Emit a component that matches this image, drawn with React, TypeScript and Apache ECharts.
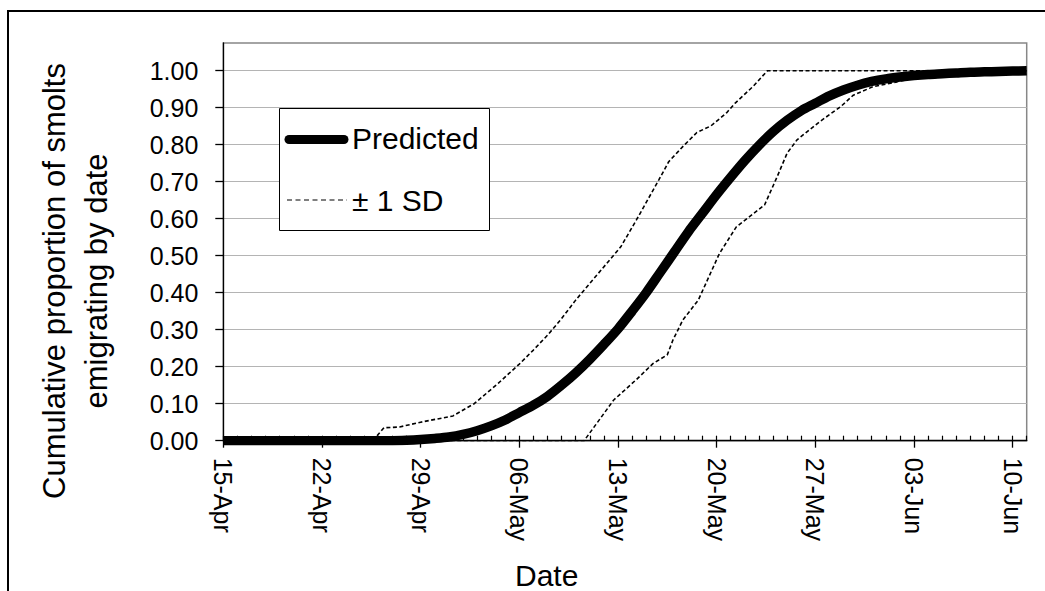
import React, { useEffect, useRef } from "react";
import * as echarts from "echarts";

// X axis: days since 15-Apr
const xTickDays = [0, 7, 14, 21, 28, 35, 42, 49, 56];
const xTickLabels = ["15-Apr", "22-Apr", "29-Apr", "06-May", "13-May", "20-May", "27-May", "03-Jun", "10-Jun"];
const yTickValues = [0, 0.1, 0.2, 0.3, 0.4, 0.5, 0.6, 0.7, 0.8, 0.9, 1.0];

const predictedDays = [0, 12, 13, 14, 15, 16, 17, 18, 19, 20, 21, 22, 23, 24, 25, 26, 27, 28, 29, 30, 31, 32, 33, 34, 35, 36, 37, 38, 39, 40, 41, 42, 43, 44, 45, 46, 47, 48, 49, 50, 51, 52, 53, 54, 55, 56, 57];
const predictedValues = [0, 0, 0.001, 0.003, 0.006, 0.01, 0.017, 0.027, 0.04, 0.056, 0.076, 0.096, 0.12, 0.15, 0.183, 0.22, 0.26, 0.302, 0.35, 0.4, 0.455, 0.51, 0.565, 0.615, 0.665, 0.712, 0.757, 0.798, 0.835, 0.866, 0.892, 0.912, 0.932, 0.948, 0.961, 0.971, 0.978, 0.983, 0.987, 0.99, 0.992, 0.994, 0.996, 0.997, 0.998, 0.999, 1.0];

const upperSdDays = [0, 10.6, 11.4, 12.5, 14, 16.3, 17.8, 19.5, 21, 22, 23, 24, 25, 26, 27.4, 28.2, 29.3, 30.9, 31.6, 32.6, 33.6, 34.6, 35.7, 36.3, 37.6, 38.6, 57];
const upperSdValues = [0, 0, 0.035, 0.037, 0.05, 0.067, 0.1, 0.155, 0.207, 0.245, 0.285, 0.33, 0.38, 0.425, 0.488, 0.524, 0.596, 0.705, 0.754, 0.795, 0.833, 0.851, 0.886, 0.912, 0.958, 1.0, 1.0];

const lowerSdDays = [0, 25.6, 27.7, 29.3, 30.5, 31.5, 31.9, 32.6, 33.7, 35.2, 36.4, 38.4, 39.3, 40, 40.7, 42.3, 43.8, 44.7, 46.1, 47.8, 49.5, 52, 57];
const lowerSdValues = [0, 0, 0.11, 0.165, 0.209, 0.232, 0.272, 0.326, 0.38, 0.506, 0.578, 0.637, 0.714, 0.777, 0.813, 0.862, 0.903, 0.934, 0.957, 0.97, 0.985, 0.995, 1.0];

const FONT = "'Liberation Sans', Arial, sans-serif";

export default function App() {
  const ref = useRef<HTMLDivElement>(null);
  useEffect(() => {
    document.body.style.margin = "0";
    const chart = echarts.init(ref.current!, null, { renderer: "svg" });
    const pair = (d: number[], v: number[]) => d.map((x, i) => [x, v[i]]);
    const gTop = 43;
    const gBottom = 150.3;
    const plotH = 591 - gTop - gBottom;
    chart.setOption({
      animation: false,
      grid: {
        left: 223.3,
        right: 18.3,
        top: gTop,
        bottom: gBottom,
        show: true,
        borderColor: "#878787",
        borderWidth: 1.5,
      },
      xAxis: [
        {
          type: "value",
          min: 0,
          max: 57,
          interval: 7,
          position: "bottom",
          axisLine: { show: true, onZero: false, lineStyle: { color: "#000", width: 1.3 } },
          axisTick: { show: true, length: 7, customValues: xTickDays, lineStyle: { color: "#000", width: 1.3 } },
          axisLabel: {
            show: true,
            customValues: xTickDays,
            rotate: -90,
            margin: 17,
            fontSize: 25,
            fontFamily: FONT,
            color: "#000",
            padding: [0, 0, 6, 0],
            formatter: (v: number) => {
              const i = xTickDays.indexOf(Math.round(v));
              return i >= 0 ? xTickLabels[i] : "";
            },
          },
          splitLine: { show: false },
        },
        {
          type: "value",
          min: 0,
          max: 57,
          interval: 1,
          position: "top",
          offset: -plotH,
          axisLine: { show: false, onZero: false },
          axisTick: { show: true, length: 5, lineStyle: { color: "#000", width: 1.2 } },
          axisLabel: { show: false },
          splitLine: { show: false },
        },
      ],
      yAxis: {
        type: "value",
        min: 0,
        max: 1.075,
        interval: 0.1,
        axisLine: { show: true, onZero: false, lineStyle: { color: "#000", width: 1.3 } },
        axisTick: { show: true, length: 8, customValues: yTickValues, lineStyle: { color: "#000", width: 1.3 } },
        axisLabel: {
          customValues: yTickValues,
          margin: 25,
          fontSize: 25,
          fontFamily: FONT,
          color: "#000",
          formatter: (v: number) => (v > 1.0001 ? "" : v.toFixed(2)),
        },
        splitLine: { show: true, lineStyle: { color: "#b4b4b4", width: 1 } },
      },
      series: [
        {
          type: "line",
          name: "+1 SD",
          data: pair(upperSdDays, upperSdValues),
          symbol: "none",
          lineStyle: { color: "#000", width: 1.6, type: [4, 2.5] },
          z: 3,
        },
        {
          type: "line",
          name: "-1 SD",
          data: pair(lowerSdDays, lowerSdValues),
          symbol: "none",
          lineStyle: { color: "#000", width: 1.6, type: [4, 2.5] },
          z: 3,
        },
        {
          type: "line",
          name: "Predicted",
          data: pair(predictedDays, predictedValues),
          symbol: "none",
          smooth: 0.3,
          lineStyle: { color: "#000", width: 9.5, join: "round" },
          z: 4,
        },
      ],
      graphic: [
        {
          type: "rect",
          shape: { x: 8, y: 11, width: 1100, height: 700 },
          style: { fill: "none", stroke: "#000", lineWidth: 2 },
          z: 100,
        },
        {
          type: "rect",
          shape: { x: 279.5, y: 108.5, width: 210, height: 122 },
          style: { fill: "#fff", stroke: "#000", lineWidth: 1 },
          z: 100,
        },
        {
          type: "line",
          shape: { x1: 289, y1: 139.5, x2: 344, y2: 139.5 },
          style: { stroke: "#000", lineWidth: 9, lineCap: "round" },
          z: 101,
        },
        {
          type: "text",
          x: 352,
          y: 138,
          style: { text: "Predicted", fontSize: 30, fontFamily: FONT, fill: "#000", align: "left", verticalAlign: "middle" },
          z: 101,
        },
        {
          type: "line",
          shape: { x1: 287, y1: 200, x2: 347, y2: 200 },
          style: { stroke: "#000", lineWidth: 1.2, lineDash: [5, 3.5] },
          z: 101,
        },
        {
          type: "text",
          x: 352,
          y: 200,
          style: { text: "± 1 SD", fontSize: 30, fontFamily: FONT, fill: "#000", align: "left", verticalAlign: "middle" },
          z: 101,
        },
        {
          type: "text",
          x: 546.7,
          y: 575,
          style: { text: "Date", fontSize: 30, fontFamily: FONT, fill: "#000", align: "center", verticalAlign: "middle" },
          z: 101,
        },
        {
          type: "text",
          x: 75,
          y: 281,
          rotation: Math.PI / 2,
          style: {
            text: "Cumulative proportion of smolts\nemigrating by date",
            fontSize: 31,
            lineHeight: 42,
            fontFamily: FONT,
            fill: "#000",
            align: "center",
            verticalAlign: "middle",
          },
          z: 101,
        },
      ],
    });
    return () => chart.dispose();
  }, []);
  return <div ref={ref} style={{ width: 1045, height: 591 }} />;
}
